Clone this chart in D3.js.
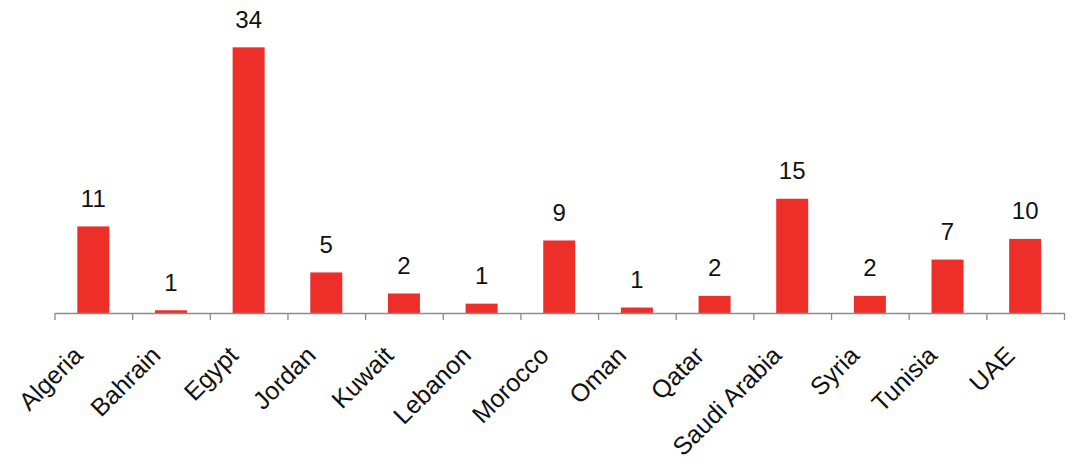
<!DOCTYPE html>
<html>
<head>
<meta charset="utf-8">
<script src="https://cdn.jsdelivr.net/npm/d3@7"></script>
<style>
  body { margin: 0; background: #fff; }
  svg { display: block; font-family: "Liberation Sans", Arial, Helvetica, sans-serif; }
</style>
</head>
<body>
<div id="chart-area"></div>
<script>
// data
const countries = ["Algeria", "Bahrain", "Egypt", "Jordan", "Kuwait", "Lebanon", "Morocco",
    "Oman", "Qatar", "Saudi Arabia", "Syria", "Tunisia", "UAE"]
// bar heights as drawn
const values = [11.1, 0.35, 34.06, 5.2, 2.5, 1.2, 9.3, 0.7, 2.2, 14.65, 2.2, 6.85, 9.5]
// numbers printed above the bars
const labels = ["11", "1", "34", "5", "2", "1", "9", "1", "2", "15", "2", "7", "10"]

function drawChart() {
    const svgWidth = 1072
    const svgHeight = 466
    const margin = { left: 54.5, right: 8, top: 40, bottom: 153 }
    const chartWidth = svgWidth - margin.left - margin.right
    const chartHeight = svgHeight - margin.top - margin.bottom

    const dataset = countries.map((c, i) => ({ country: c, value: values[i], label: labels[i] }))

    const xScale = d3.scaleBand()
        .domain(countries)
        .range([0, chartWidth])
        .paddingInner(0)
        .paddingOuter(0)

    const yScale = d3.scaleLinear()
        .domain([0, 35])
        .range([chartHeight, chartHeight - 35 * 7.8])

    const svg = d3.select("#chart-area")
        .append("svg")
        .attr("width", svgWidth)
        .attr("height", svgHeight)

    const chart = svg.append("g")
        .attr("transform", `translate(${margin.left},${margin.top})`)

    const barWidth = 32

    chart.selectAll(".bar")
        .data(dataset)
        .join("rect")
        .attr("class", "bar")
        .attr("x", d => xScale(d.country) + xScale.bandwidth() / 2 - barWidth / 2)
        .attr("y", d => yScale(d.value))
        .attr("width", barWidth)
        .attr("height", d => yScale(0) - yScale(d.value))
        .attr("fill", "#ee2e29")

    chart.selectAll(".value-label")
        .data(dataset)
        .join("text")
        .attr("class", "value-label")
        .attr("x", d => xScale(d.country) + xScale.bandwidth() / 2)
        .attr("y", d => yScale(d.value) - 19.5)
        .attr("text-anchor", "middle")
        .attr("font-size", 24)
        .attr("fill", "#111")
        .text(d => d.label)

    // axis: ticks sit on the band edges, labels are drawn separately
    const edgeScale = d3.scaleLinear()
        .domain([0, countries.length])
        .range([0, chartWidth])

    const xAxis = chart.append("g")
        .attr("class", "x-axis")
        .attr("transform", `translate(0,${chartHeight})`)
        .call(d3.axisBottom(edgeScale)
            .tickValues(d3.range(countries.length + 1))
            .tickSize(7)
            .tickSizeOuter(0)
            .tickFormat(""))
    xAxis.selectAll("path, line").attr("stroke", "#8c8c8c").attr("stroke-width", 1.3)

    chart.selectAll(".cat-label")
        .data(dataset)
        .join("text")
        .attr("class", "cat-label")
        .attr("transform", d =>
            `translate(${xScale(d.country) + xScale.bandwidth() / 2 - 9},${chartHeight + 44}) rotate(-45)`)
        .attr("text-anchor", "end")
        .attr("font-size", 25)
        .attr("fill", "#111")
        .text(d => d.country)
}

drawChart()
</script>
</body>
</html>
